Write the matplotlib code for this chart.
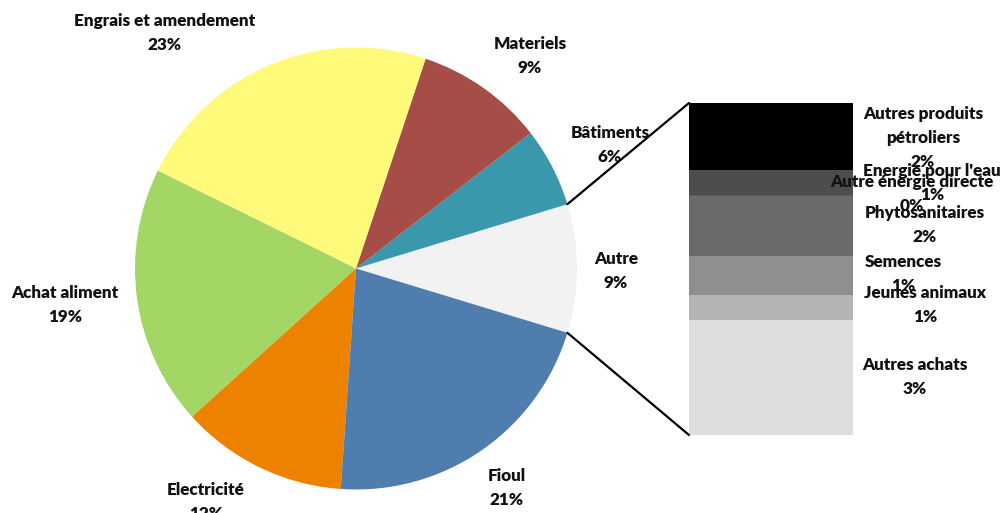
import numpy as np
import matplotlib
matplotlib.use("Agg")
import matplotlib.pyplot as plt
from matplotlib.patches import ConnectionPatch

# Main pie: share of each cost item (%), "Autre" is broken down in the bar
main_labels = ["Autre", "Bâtiments", "Materiels", "Engrais et amendement",
               "Achat aliment", "Electricité", "Fioul"]
main_values = [None, 5.8, 9.4, 22.8, 19.0, 12.2, 21.4]
main_colors = ["#F2F2F2", "#3A98AD", "#A54D46", "#FFFA7A",
               "#A3D665", "#EC8200", "#4F7DAE"]

# Breakdown of "Autre" (top of the bar first)
sub_labels = ["Autres produits\npétroliers", "Energie pour l'eau",
              "Autre énergie directe", "Phytosanitaires", "Semences",
              "Jeunes animaux", "Autres achats"]
sub_values = [1.9, 0.7, 0.04, 1.7, 1.1, 0.7, 3.26]
sub_colors = ["#000000", "#4D4D4D", "#5C5C5C", "#6A6A6A", "#8F8F8F",
              "#B4B4B4", "#DEDEDE"]

autre = sum(sub_values)
main_values[0] = autre
total = sum(main_values)

W, H = 1003, 513
fig = plt.figure(figsize=(W / 100, H / 100), dpi=100)
ax = fig.add_axes([0, 0, 1, 1])

FONT = dict(family=["Lato", "DejaVu Sans"], fontweight="heavy",
            fontsize=12.3, color="#111111", linespacing=1.62)

def px(x, y):
    """Pixel position (origin top-left) to data coordinates."""
    return x, H - y

center = px(356, 268.5)
radius = 221
autre_angle = 360 * autre / total
start = -autre_angle / 2

ax.pie(main_values, colors=main_colors, startangle=start, counterclock=True,
       center=center, radius=radius,
       wedgeprops=dict(linewidth=0.6, edgecolor="none", antialiased=True))
ax.set_xlim(0, W)
ax.set_ylim(0, H)
ax.set_aspect("equal", adjustable="box")
ax.axis("off")

# Pie labels
main_label_pos = [(616, 271), (610, 145), (530, 56), (165, 33),
                  (65, 305), (206, 502), (507, 488)]
for lab, val, (x, y) in zip(main_labels, main_values, main_label_pos):
    ax.text(*px(x, y), f"{lab}\n{round(100 * val / total):.0f}%",
            ha="center", va="center", **FONT)

# Stacked bar for the "Autre" breakdown
bx0, by0, bw, bh = 689, 103, 164, 332
ax2 = fig.add_axes([bx0 / W, (H - by0 - bh) / H, bw / W, bh / H])
tops = autre - np.cumsum([0] + sub_values[:-1])
for v, c, t in zip(sub_values, sub_colors, tops):
    ax2.bar(0, v, bottom=t - v, width=1.0, color=c, linewidth=0)
ax2.set_xlim(-0.5, 0.5)
ax2.set_ylim(0, autre)
ax2.axis("off")

# Connector lines between the "Autre" wedge and the bar
for sign, ybar in [(1, autre), (-1, 0)]:
    a = np.deg2rad(sign * autre_angle / 2)
    p = (center[0] + radius * np.cos(a), center[1] + radius * np.sin(a))
    con = ConnectionPatch(xyA=p, coordsA=ax.transData, xyB=(-0.5, ybar),
                          coordsB=ax2.transData, color="black", linewidth=1.6)
    fig.add_artist(con)

# Bar labels (figure-level so they sit above the bar)
sub_label_pos = [(923, 138), (932, 183), (912, 194), (925, 225),
                 (903, 274), (925, 305), (915, 377)]
for lab, val, (x, y) in zip(sub_labels, sub_values, sub_label_pos):
    fig.text(*px(x, y), f"{lab}\n{round(100 * val / total):.0f}%",
             transform=ax.transData, ha="center", va="center", **FONT)

fig.savefig("out.png", dpi=100)
